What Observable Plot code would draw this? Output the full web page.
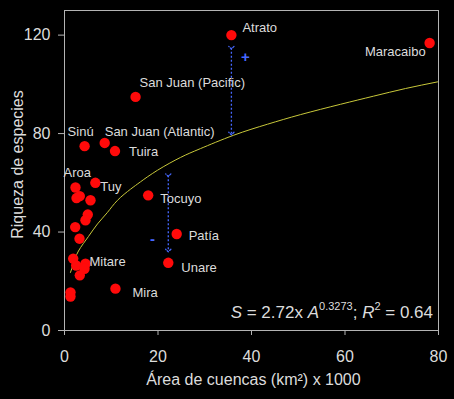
<!DOCTYPE html>
<html>
<head>
<meta charset="utf-8">
<script src="https://cdn.jsdelivr.net/npm/d3@7"></script>
<script src="https://cdn.jsdelivr.net/npm/@observablehq/plot@0.6"></script>
<style>
  html, body { margin: 0; padding: 0; background: #000; }
  #chart { width: 454px; height: 399px; }
</style>
</head>
<body>
<div id="chart"></div>
<script>
// ---- data ----
const basin = ["Atrato","Maracaibo","San Juan (Pacific)","San Juan (Atlantic)","Sinú","Tuira","Tuy","Aroa","","","","","","","","","","Mitare","","","","","Mira","Tocuyo","Patía","Unare"];
const area = [35.7, 78.1, 15.2, 8.6, 4.3, 10.8, 6.6, 2.35, 2.57, 3.27, 5.56, 4.98, 4.49, 2.29, 3.21, 1.86, 2.50, 4.49, 4.28, 3.27, 1.28, 1.28, 10.9, 17.9, 24.0, 22.2];
const richness = [120.0, 116.8, 94.9, 76.2, 74.9, 72.9, 60.0, 58.1, 53.8, 54.6, 52.9, 47.1, 44.8, 42.0, 37.3, 29.2, 26.4, 27.1, 25.1, 22.4, 15.5, 13.8, 17.0, 54.9, 39.2, 27.5];

// fitted curve as drawn in the reference
const fitArea = [1.28, 1.93, 2.99, 5.13, 7.06, 9.20, 11.34, 14.12, 16.26, 19.89, 24.81, 29.09, 36.15, 43.42, 50.48, 59.04, 66.10, 72.94, 79.79];
const fitRichness = [23.6, 27.3, 32.3, 38.2, 43.3, 48.0, 52.9, 57.4, 60.4, 65.1, 70.3, 73.9, 79.3, 83.8, 87.7, 91.9, 95.2, 98.3, 101.0];

// residual arrows
const residualArea = [35.7, 22.2];
const residualFrom = [114.9, 63.1];
const residualTo = [80.0, 32.5];

// residual signs
const signText = ["+", "-"];
const signArea = [38.7, 18.8];
const signRichness = [111.2, 37.0];

const xTicks = [0, 20, 40, 60, 80];
const yTicks = [0, 40, 80, 120];

// ---- tables ----
const points = area.map((a, i) => ({area: a, richness: richness[i], name: basin[i]}));
const fit = fitArea.map((a, i) => ({area: a, richness: fitRichness[i]}));
const residuals = residualArea.map((a, i) => ({area: a, from: residualFrom[i], to: residualTo[i]}));
const signs = signText.map((s, i) => ({sign: s, area: signArea[i], richness: signRichness[i]}));

// label placement (layout only)
const labelPlacement = {
  "Atrato": [11, -7, "start"],
  "Maracaibo": [-4, 9, "end"],
  "San Juan (Pacific)": [4, -14, "start"],
  "Sinú": [-17, -14, "start"],
  "San Juan (Atlantic)": [0, -11, "start"],
  "Tuira": [14, 1, "start"],
  "Aroa": [-12, -15, "start"],
  "Tuy": [5, 4, "start"],
  "Tocuyo": [12, 3, "start"],
  "Patía": [12, 2, "start"],
  "Mitare": [4, -2, "start"],
  "Unare": [13, 5, "start"],
  "Mira": [17, 4, "start"]
};

const font = "'Liberation Sans', Arial, sans-serif";
const textColor = "#dcdcdc";
const axisColor = "#b4b4b4";
const blue = "#4668ff";

const labelMarks = Object.entries(labelPlacement).map(([name, [dx, dy, anchor]]) =>
  Plot.text(points.filter(d => d.name === name), {
    x: "area", y: "richness", text: "name", dx, dy, textAnchor: anchor,
    lineAnchor: "middle", fill: textColor, fontSize: 13
  })
);

const chart = Plot.plot({
  width: 454,
  height: 399,
  marginLeft: 64,
  marginRight: 16,
  marginTop: 10,
  marginBottom: 69,
  style: {background: "#000", color: textColor, fontFamily: font, fontSize: "16px"},
  x: {domain: [0, 80]},
  y: {domain: [0, 130]},
  marks: [
    Plot.frame({stroke: axisColor}),
    Plot.axisY({ticks: yTicks, tickSize: 6, tickPadding: 8, fontSize: 16, stroke: axisColor, fill: textColor, label: null}),
    Plot.axisX({ticks: xTicks, tickSize: 5, tickPadding: 15, fontSize: 16, stroke: axisColor, fill: textColor, label: null}),
    Plot.text(["Riqueza de especies"], {frameAnchor: "left", rotate: -90, dx: -47, dy: -6, textAnchor: "middle", lineAnchor: "middle", fill: textColor, fontSize: 16}),
    Plot.text(["Área de cuencas (km²) x 1000"], {frameAnchor: "bottom", dx: 2, dy: 49, textAnchor: "middle", lineAnchor: "middle", fill: textColor, fontSize: 16}),
    Plot.line(fit, {x: "area", y: "richness", curve: "natural", stroke: "#c8c83a", strokeWidth: 1}),
    Plot.link(residuals, {x1: "area", x2: "area", y1: "from", y2: "to", stroke: blue, strokeWidth: 1.3, strokeDasharray: "2,2", markerStart: "arrow", markerEnd: "arrow"}),
    Plot.text(signs, {x: "area", y: "richness", text: "sign", fill: blue, fontSize: 15, fontWeight: "bold"}),
    Plot.dot(points, {x: "area", y: "richness", r: 5.2, fill: "#ff0a0a", stroke: "none"}),
    ...labelMarks
  ]
});

document.getElementById("chart").appendChild(chart);

// equation annotation
const svg = d3.select(chart.tagName.toLowerCase() === "svg" ? chart : chart.querySelector("svg"));
const eq = svg.append("text")
  .attr("x", 433).attr("y", 318)
  .attr("text-anchor", "end")
  .attr("fill", textColor)
  .attr("font-family", font)
  .attr("font-size", 17);
eq.append("tspan").attr("font-style", "italic").text("S");
eq.append("tspan").text(" = 2.72x ");
eq.append("tspan").attr("font-style", "italic").text("A");
eq.append("tspan").attr("dy", -8).attr("font-size", 11).text("0.3273");
eq.append("tspan").attr("dy", 8).text("; ");
eq.append("tspan").attr("font-style", "italic").text("R");
eq.append("tspan").attr("dy", -8).attr("font-size", 11).text("2");
eq.append("tspan").attr("dy", 8).text(" = 0.64");
</script>
</body>
</html>
